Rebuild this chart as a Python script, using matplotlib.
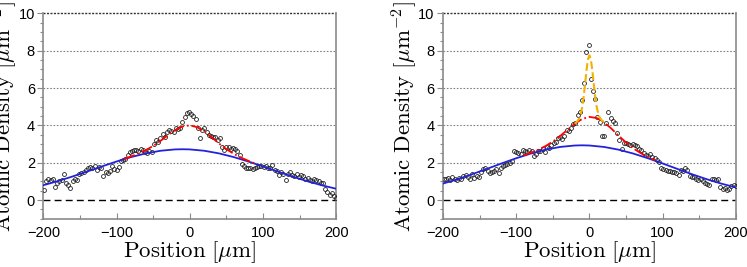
import numpy as np
import matplotlib
matplotlib.use("Agg")
import matplotlib.pyplot as plt
from matplotlib.ticker import MultipleLocator

plt.rcParams['mathtext.fontset'] = 'cm'
plt.rcParams['font.family'] = ['Liberation Sans', 'DejaVu Sans']

# ---------------- data ----------------
x_pos = np.arange(-199, 201, 3)  # sample positions [um]

left_density = [
    0.55, 1.00, 1.10, 1.05, 1.10, 0.70, 0.90, 1.00, 1.05, 1.40,
    0.90, 0.80, 0.65, 1.00, 1.10, 1.05, 1.40, 1.45, 1.50, 1.60,
    1.70, 1.75, 1.70, 1.80, 1.60, 1.75, 1.70, 1.30, 1.50, 1.45,
    1.55, 1.80, 1.65, 1.60, 1.75, 2.10, 2.15, 2.20, 2.40, 2.55,
    2.60, 2.70, 2.70, 2.65, 2.75, 2.70, 2.55, 2.50, 2.60, 2.55,
    3.00, 3.20, 3.10, 3.30, 3.55, 3.40, 3.65, 3.75, 3.70, 3.65,
    3.85, 3.80, 3.85, 4.20, 4.45, 4.65, 4.70, 4.60, 4.50, 4.35,
    3.85, 3.30, 3.75, 3.85, 3.65, 3.50, 3.45, 3.40, 3.40, 3.20,
    3.30, 2.85, 2.70, 2.85, 2.85, 2.75, 2.80, 2.75, 2.60, 2.40,
    1.95, 1.80, 1.70, 1.70, 1.70, 1.65, 1.70, 1.75, 1.80, 1.80,
    1.75, 1.80, 1.70, 1.70, 1.85, 1.60, 1.55, 1.35, 1.50, 1.40,
    1.05, 1.40, 1.50, 1.35, 1.30, 1.40, 1.25, 1.35, 1.30, 1.15,
    1.20, 1.05, 1.00, 1.10, 1.05, 1.00, 0.90, 0.90, 0.60, 0.45,
    0.25, 0.35, 0.20, 0.10,
]

right_density = [
    1.15, 1.10, 1.20, 1.05, 1.25, 1.15, 1.05, 1.20, 1.10, 1.30,
    1.35, 1.25, 1.15, 1.40, 1.20, 1.30, 1.25, 1.50, 1.65, 1.70,
    1.55, 1.45, 1.50, 1.55, 1.65, 1.45, 1.70, 1.80, 1.85, 1.95,
    2.00, 2.10, 2.60, 2.55, 2.50, 2.45, 2.70, 2.65, 2.55, 2.70,
    2.60, 2.35, 2.45, 2.65, 2.60, 2.75, 2.55, 2.85, 2.80, 2.95,
    3.05, 3.10, 3.30, 3.35, 3.25, 3.45, 3.75, 3.70, 3.85, 4.05,
    4.10, 4.55, 4.70, 5.35, 6.25, 7.95, 8.30, 6.50, 5.85, 5.40,
    4.45, 4.17, 3.45, 3.42, 4.10, 4.73, 4.40, 4.25, 4.15, 3.60,
    3.20, 2.75, 3.05, 3.05, 3.00, 2.95, 3.00, 2.95, 2.90, 2.75,
    2.70, 2.50, 2.40, 2.35, 2.45, 2.30, 2.25, 2.15, 2.05, 1.70,
    1.65, 1.60, 1.55, 1.55, 1.50, 1.50, 1.45, 1.35, 1.60, 1.55,
    1.70, 1.60, 1.30, 1.25, 1.25, 1.15, 1.05, 1.10, 1.00, 0.90,
    0.85, 0.80, 1.10, 1.10, 1.05, 1.10, 0.70, 0.60, 0.65, 0.55,
    0.60, 0.75, 0.80, 0.75,
]

# fitted curves (sampled)
blue_x = [-200, -180, -160, -140, -120, -100, -80, -60, -40, -20, -10,
          0, 20, 40, 60, 80, 100, 120, 140, 160, 180, 200]
left_blue = [0.793, 1.014, 1.262, 1.527, 1.799, 2.063, 2.301, 2.497, 2.638,
             2.711, 2.720, 2.711, 2.638, 2.497, 2.301, 2.063, 1.799, 1.527,
             1.262, 1.014, 0.793, 0.603]
right_blue = [0.880, 1.118, 1.384, 1.668, 1.958, 2.237, 2.488, 2.696, 2.843,
              2.920, 2.930, 2.920, 2.843, 2.696, 2.488, 2.237, 1.958, 1.668,
              1.384, 1.118, 0.880, 0.674]

red_x = [-90, -80, -70, -60, -50, -40, -30, -20, -10, 0,
         10, 20, 30, 40, 50, 60, 70, 80, 90]
left_red = [2.200, 2.338, 2.490, 2.672, 2.897, 3.168, 3.465, 3.744, 3.940,
            4.001, 3.903, 3.671, 3.357, 3.027, 2.727, 2.476, 2.271, 2.100, 1.947]
right_red = [2.383, 2.529, 2.692, 2.887, 3.129, 3.425, 3.759, 4.086, 4.339,
             4.453, 4.392, 4.166, 3.827, 3.445, 3.081, 2.767, 2.512, 2.305, 2.128]

orange_x = [-20, -18, -16, -14, -12, -10, -8, -6, -4, -2, 0,
            2, 4, 6, 8, 10, 12, 14, 16, 18, 20]
right_orange = [4.09, 4.16, 4.24, 4.36, 4.57, 4.93, 5.47, 6.18, 6.93, 7.53,
                7.75, 7.54, 6.95, 6.21, 5.51, 4.98, 4.64, 4.43, 4.31, 4.23, 4.17]

x_ticks = [-200, -100, 0, 100, 200]
x_tick_labels = ['\u2212200', '\u2212100', '0', '100', '200']
y_ticks = [0, 2, 4, 6, 8, 10]

# ---------------- plot ----------------
fig = plt.figure(figsize=(7.47, 2.67), dpi=100)
ax1 = fig.add_axes([0.058, 0.181, 0.392, 0.769])
ax2 = fig.add_axes([0.593, 0.181, 0.392, 0.769])

spine_col = '#8a8a8a'

def style(ax):
    ax.set_xlim(-200, 200)
    ax.set_ylim(-1, 10)
    ax.set_xticks(x_ticks)
    ax.set_yticks(y_ticks)
    ax.xaxis.set_minor_locator(MultipleLocator(50))
    ax.yaxis.set_minor_locator(MultipleLocator(0.5))
    ax.set_xticklabels(x_tick_labels)
    ax.tick_params(axis='x', which='both', direction='in', color=spine_col,
                   labelsize=10.5, pad=5)
    ax.tick_params(axis='x', which='major', length=4, width=0.8)
    ax.tick_params(axis='x', which='minor', length=3, width=0.8)
    ax.tick_params(axis='y', which='both', direction='out', color=spine_col,
                   labelsize=10.5, pad=2)
    ax.tick_params(axis='y', which='major', length=4, width=0.8)
    ax.tick_params(axis='y', which='minor', length=2.5, width=0.8)
    ax.spines['top'].set_visible(False)
    for s in ['left', 'bottom', 'right']:
        ax.spines[s].set_color(spine_col)
        ax.spines[s].set_linewidth(1.2)
    for yv in [2, 4, 6, 8]:
        ax.axhline(yv, color='#808080', ls=(0, (1.5, 1.5)), lw=0.8, zorder=0)
    ax.axhline(10, color='#333333', ls=(0, (1.5, 1.0)), lw=1.0, zorder=0,
               clip_on=False)
    ax.axhline(0, color='black', ls=(0, (5, 3)), lw=1.0, zorder=1)
    ax.set_xlabel(r'$\mathrm{Position}\ [\mu\mathrm{m}]$', fontsize=16.5,
                  labelpad=0)
    ax.set_ylabel(r'$\mathrm{Atomic\ Density}\ [\mu\mathrm{m}^{-2}]$',
                  fontsize=16.5)
    ax.yaxis.set_label_coords(-0.078, 0.5)

style(ax1)
style(ax2)

mk = dict(ls='none', marker='o', ms=2.8, mfc='none', mec='#222222', mew=0.6,
          zorder=3)

ax1.plot(x_pos, left_density, **mk)
ax1.plot(red_x, left_red, color='red', ls='-.', lw=1.3, zorder=4)
ax1.plot(blue_x, left_blue, color='#2222dd', ls='-', lw=1.3, zorder=3.5)

ax2.plot(x_pos, right_density, **mk)
ax2.plot(red_x, right_red, color='red', ls='-.', lw=1.3, zorder=4)
ax2.plot(orange_x, right_orange, color='#f5b000', ls='--', lw=1.5, zorder=4.5)
ax2.plot(blue_x, right_blue, color='#2222dd', ls='-', lw=1.3, zorder=3.5)

fig.savefig('out.png', dpi=100)
